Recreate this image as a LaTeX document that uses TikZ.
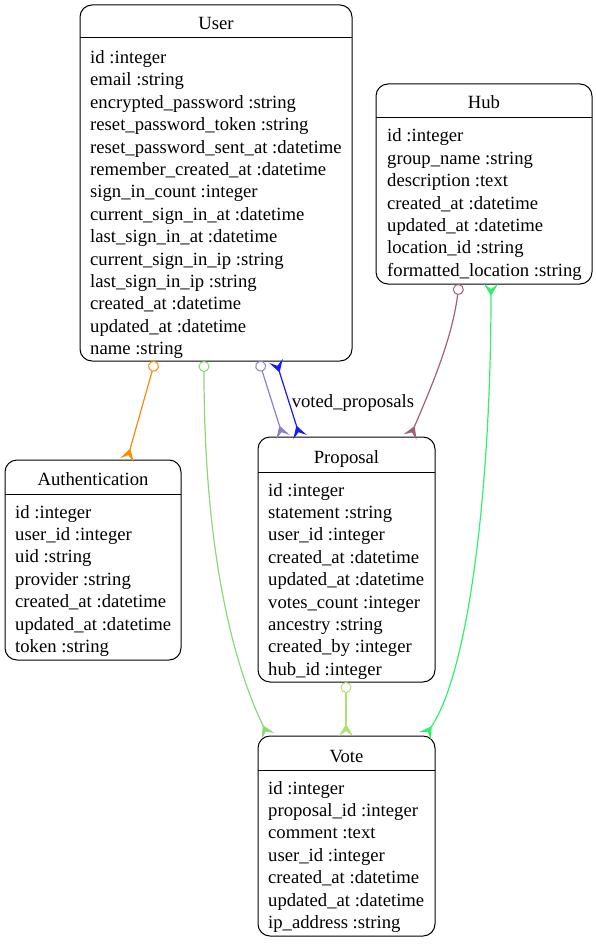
\documentclass[tikz,border=0pt]{standalone}
\usepackage{fontspec}
\setmainfont{Liberation Serif}
\usetikzlibrary{arrows.meta}
\newcommand\erow[1]{\hbox{#1}}
\newcommand\efields[1]{\vtop{\baselineskip=22.4pt\lineskiplimit=-20pt #1}}
\definecolor{cOrange}{RGB}{250,140,0}
\definecolor{cLgreen}{RGB}{140,215,120}
\definecolor{cPurple}{RGB}{140,128,200}
\definecolor{cBlue}{RGB}{25,25,250}
\definecolor{cMauve}{RGB}{158,100,112}
\definecolor{cLime}{RGB}{175,225,110}
\definecolor{cBgreen}{RGB}{50,240,110}
\tikzset{
  odottip/.tip={Circle[open,length=11pt,width=11pt,line width=1pt]},
  crowtip/.tip={Stealth[reversed,length=12pt,width=14pt,inset=5pt]}
}
\begin{document}
\begin{tikzpicture}[x=1pt,y=-1pt,
  every node/.style={font=\fontsize{18.67}{22.4}\selectfont},
  ebox/.style={draw, rounded corners=12pt, inner sep=0pt, outer sep=0pt, line width=1pt},
  etitle/.style={anchor=base, inner sep=0pt},
  efld/.style={anchor=base west, inner sep=0pt},
  sep/.style={line width=1pt},
  rel/.style={line width=1.2pt}
]
\useasboundingbox (0,0) rectangle (596,944);

% User
\node[ebox, minimum width=272pt, minimum height=356pt] (user) at (216,183) {};
\node[etitle] (userT) at (216,30) {User};
\draw[sep] (user.west |- 0,38) -- (user.east |- 0,38);
\node[efld] (userF) at (90,63.5) {\efields{%
\erow{id :integer}\erow{email :string}\erow{encrypted\_password :string}%
\erow{reset\_password\_token :string}\erow{reset\_password\_sent\_at :datetime}%
\erow{remember\_created\_at :datetime}\erow{sign\_in\_count :integer}%
\erow{current\_sign\_in\_at :datetime}\erow{last\_sign\_in\_at :datetime}%
\erow{current\_sign\_in\_ip :string}\erow{last\_sign\_in\_ip :string}%
\erow{created\_at :datetime}\erow{updated\_at :datetime}\erow{name :string}}};

% Hub
\node[ebox, minimum width=216pt, minimum height=200pt] (hub) at (484,184) {};
\node[etitle] (hubT) at (484,109) {Hub};
\draw[sep] (hub.west |- 0,118) -- (hub.east |- 0,118);
\node[efld] (hubF) at (387,142) {\efields{%
\erow{id :integer}\erow{group\_name :string}\erow{description :text}%
\erow{created\_at :datetime}\erow{updated\_at :datetime}%
\erow{location\_id :string}\erow{formatted\_location :string}}};

% Authentication
\node[ebox, minimum width=176pt, minimum height=200pt] (auth) at (93,560) {};
\node[etitle] (authT) at (93,485) {Authentication};
\draw[sep] (auth.west |- 0,494) -- (auth.east |- 0,494);
\node[efld] (authF) at (15,518) {\efields{%
\erow{id :integer}\erow{user\_id :integer}\erow{uid :string}%
\erow{provider :string}\erow{created\_at :datetime}%
\erow{updated\_at :datetime}\erow{token :string}}};

% Proposal
\node[ebox, minimum width=177pt, minimum height=245pt] (prop) at (346.5,559.5) {};
\node[etitle] (propT) at (346.5,463) {Proposal};
\draw[sep] (prop.west |- 0,472) -- (prop.east |- 0,472);
\node[efld] (propF) at (268,496) {\efields{%
\erow{id :integer}\erow{statement :string}\erow{user\_id :integer}%
\erow{created\_at :datetime}\erow{updated\_at :datetime}%
\erow{votes\_count :integer}\erow{ancestry :string}%
\erow{created\_by :integer}\erow{hub\_id :integer}}};

% Vote
\node[ebox, minimum width=177pt, minimum height=200pt] (vote) at (346.5,836) {};
\node[etitle] (voteT) at (346.5,762) {Vote};
\draw[sep] (vote.west |- 0,770) -- (vote.east |- 0,770);
\node[efld] (voteF) at (268,794) {\efields{%
\erow{id :integer}\erow{proposal\_id :integer}\erow{comment :text}%
\erow{user\_id :integer}\erow{created\_at :datetime}%
\erow{updated\_at :datetime}\erow{ip\_address :string}}};

% relations
\draw[rel, cOrange, odottip-crowtip] (user.south -| 155,0) -- (auth.north -| 127,0);
\draw[rel, cLgreen, odottip-crowtip] (user.south -| 204,0) .. controls (204,560) and (236,670) .. (vote.north -| 268,0);
\draw[rel, cPurple, odottip-crowtip] (user.south -| 259,0) -- (prop.north -| 283,0);
\draw[rel, cBlue, crowtip-crowtip] (user.south -| 276,0) -- node[pos=0.55, right=2pt, text=black, inner sep=0pt] (vlab) {voted\_proposals} (prop.north -| 300,0);
\draw[rel, cMauve, odottip-crowtip] (hub.south -| 459,0) .. controls (452,340) and (430,390) .. (prop.north -| 410,0);
\draw[rel, cLime, odottip-crowtip] (prop.south -| 346,0) -- (vote.north -| 346,0);
\draw[rel, cBgreen, crowtip-crowtip] (hub.south -| 491,0) .. controls (491,480) and (470,670) .. (vote.north -| 425,0);
\end{tikzpicture}
\end{document}
